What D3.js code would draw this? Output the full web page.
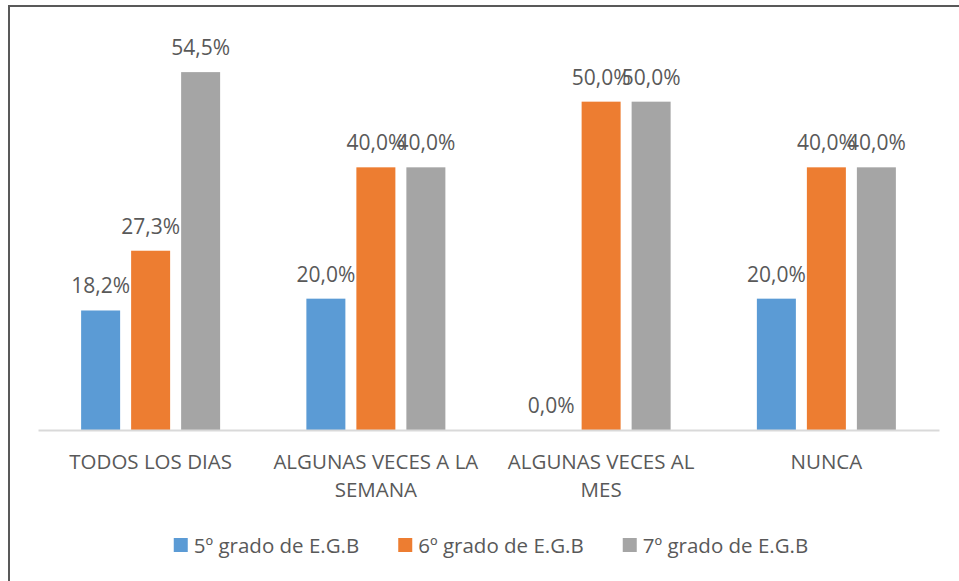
<!DOCTYPE html>
<html>
<head>
<meta charset="utf-8">
<style>
  body { margin: 0; background: #fff; }
  svg { display: block; }
  text { font-family: "Open Sans", "Noto Sans", sans-serif; fill: #595959; }
</style>
</head>
<body>
<svg width="959" height="581"></svg>
<script src="https://d3js.org/d3.v7.min.js"></script>
<script>
var categories = ["TODOS LOS DIAS", "ALGUNAS VECES A LA SEMANA", "ALGUNAS VECES AL MES", "NUNCA"];
var categoryLines = [["TODOS LOS DIAS"], ["ALGUNAS VECES A LA", "SEMANA"], ["ALGUNAS VECES AL", "MES"], ["NUNCA"]];
var series = ["5º grado de E.G.B", "6º grado de E.G.B", "7º grado de E.G.B"];
var colors = ["#5b9bd5", "#ed7d31", "#a5a5a5"];
var grado5 = [0.182, 0.20, 0.0, 0.20];
var grado6 = [0.273, 0.40, 0.50, 0.40];
var grado7 = [0.545, 0.40, 0.50, 0.40];
var values = [grado5, grado6, grado7];
var labels5 = ["18,2%", "20,0%", "0,0%", "20,0%"];
var labels6 = ["27,3%", "40,0%", "50,0%", "40,0%"];
var labels7 = ["54,5%", "40,0%", "50,0%", "40,0%"];
var labels = [labels5, labels6, labels7];

var svg = d3.select("svg");

// chart border (only top and left fall inside the picture)
svg.append("rect")
    .attr("x", 9).attr("y", 6)
    .attr("width", 1000).attr("height", 1000)
    .attr("fill", "none")
    .attr("stroke", "#595959")
    .attr("stroke-width", 2);

var x0 = d3.scaleBand().domain(categories).range([38, 939]).padding(0);
var groupW = 139;
var x1 = d3.scaleBand().domain(series).range([0, groupW]).paddingInner(0.22);
var y = d3.scaleLinear().domain([0, 0.6]).range([430, 36]);

var rows = [];
categories.forEach(function(c, i) {
  series.forEach(function(s, j) {
    rows.push({cat: c, ser: s, v: values[j][i], lab: labels[j][i], color: colors[j]});
  });
});

function barX(d) {
  return x0(d.cat) + (x0.bandwidth() - groupW) / 2 + x1(d.ser);
}

svg.selectAll("rect.bar").data(rows.filter(function(d) { return d.v > 0; }))
  .enter().append("rect")
    .attr("class", "bar")
    .attr("x", barX)
    .attr("y", function(d) { return y(d.v); })
    .attr("width", x1.bandwidth())
    .attr("height", function(d) { return y(0) - y(d.v); })
    .attr("fill", function(d) { return d.color; });

// axis line
var axis = svg.append("g").attr("transform", "translate(0," + y(0) + ")")
    .call(d3.axisBottom(x0).tickSize(0).tickFormat(""));
axis.select(".domain").attr("stroke", "#d9d9d9").attr("stroke-width", 2);

// data labels
svg.selectAll("text.lab").data(rows)
  .enter().append("text")
    .attr("class", "lab")
    .attr("x", function(d) { return barX(d) + x1.bandwidth() / 2; })
    .attr("y", function(d) { return y(d.v) - 17; })
    .attr("text-anchor", "middle")
    .style("font-size", "21px")
    .text(function(d) { return d.lab; });

// category labels
categories.forEach(function(c, i) {
  var t = svg.append("text")
      .attr("text-anchor", "middle")
      .style("font-size", "20.5px");
  categoryLines[i].forEach(function(line, k) {
    t.append("tspan")
      .attr("x", x0(c) + x0.bandwidth() / 2)
      .attr("y", 469 + k * 27.5)
      .text(line);
  });
});

// legend
var legend = svg.append("g");
var lx = 0;
series.forEach(function(s, j) {
  var g = legend.append("g").attr("transform", "translate(" + lx + ",0)");
  g.append("rect").attr("x", 0).attr("y", 538).attr("width", 14).attr("height", 14).attr("fill", colors[j]);
  var t = g.append("text").attr("x", 20).attr("y", 553).style("font-size", "20.5px").text(s);
  lx += 20 + t.node().getComputedTextLength() + 39;
});
var legW = lx - 39;
legend.attr("transform", "translate(" + (491 - legW / 2) + ",0)");
</script>
</body>
</html>
